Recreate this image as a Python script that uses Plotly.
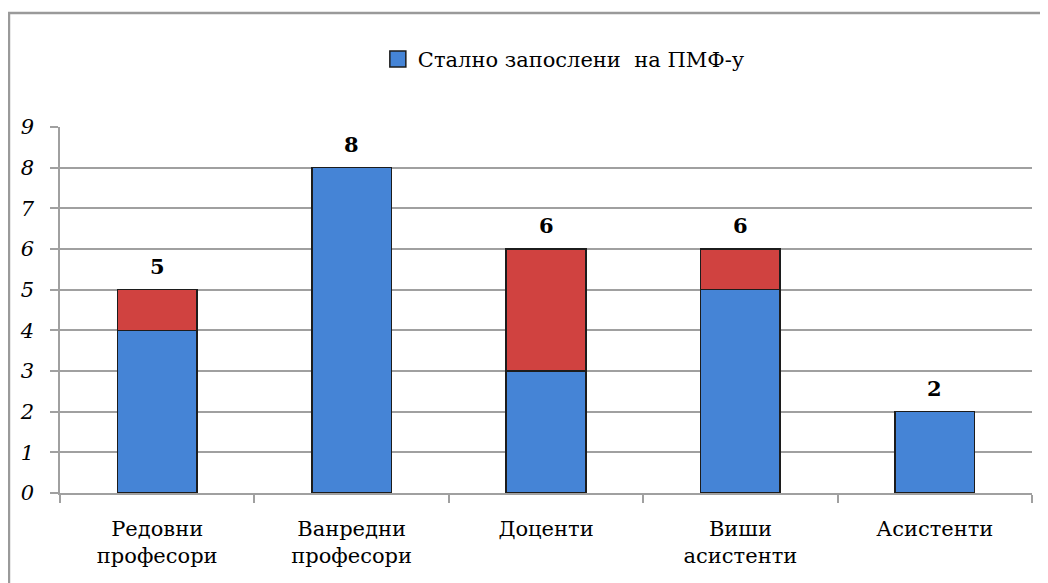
import plotly.graph_objects as go

categories = ["Редовни<br>професори", "Ванредни<br>професори", "Доценти", "Виши<br>асистенти", "Асистенти"]
blue_values = [4, 8, 3, 5, 2]
red_values = [1, 0, 3, 1, 0]
totals = [b + r for b, r in zip(blue_values, red_values)]
legend_name = "Стално запослени  на ПМФ-у"
y_ticks = list(range(0, 10))

FONT = "DejaVu Serif, Liberation Serif, serif"
BLUE = "#4584d6"
RED = "#d04240"
EDGE = "#1c1c1c"

fig = go.Figure()
fig.add_trace(go.Bar(
    x=categories, y=blue_values, name=legend_name,
    marker=dict(color=BLUE, line=dict(color=EDGE, width=1.6)),
    width=0.41, showlegend=False,
))
fig.add_trace(go.Bar(
    x=categories, y=red_values, name="red",
    marker=dict(color=RED, line=dict(color=EDGE, width=1.6)),
    width=0.41, showlegend=False,
))
# legend proxy with a larger square swatch
fig.add_trace(go.Scatter(
    x=[None], y=[None], mode="markers", name=legend_name,
    marker=dict(symbol="square", size=16, color=BLUE, line=dict(color=EDGE, width=1.5)),
    showlegend=True,
))

annotations = [
    dict(x=c, y=t, xref="x", yref="y", text="<b>%d</b>" % t, showarrow=False,
         yanchor="bottom", yshift=9, font=dict(family=FONT, size=21, color="#000000"))
    for c, t in zip(categories, totals)
]

fig.update_layout(
    barmode="stack",
    width=1040, height=575,
    margin=dict(l=52, r=16, t=119, b=90),
    paper_bgcolor="white", plot_bgcolor="white",
    font=dict(family=FONT, size=21, color="#000000"),
    legend=dict(orientation="h", x=0.327, y=1.185, xanchor="left", yanchor="middle",
                font=dict(family=FONT, size=21), itemwidth=30),
    annotations=annotations,
    shapes=[dict(type="rect", xref="paper", yref="paper",
                 x0=-0.0525, x1=1.03, y0=-0.4, y1=1.3115,
                 line=dict(color="#9a9a9a", width=2.5), fillcolor="rgba(0,0,0,0)", layer="below")],
)
fig.update_yaxes(
    range=[0, 9], tickvals=y_ticks, showgrid=True, gridcolor="#a0a0a0", gridwidth=1.5,
    showline=True, linecolor="#a0a0a0", linewidth=1.5,
    ticks="outside", ticklen=8, tickcolor="#a0a0a0", tickwidth=1.5,
    tickfont=dict(family=FONT, size=21, style="italic"), ticklabelstandoff=12,
    zeroline=False,
)
fig.update_xaxes(
    showline=True, linecolor="#a0a0a0", linewidth=1.5,
    ticks="outside", ticklen=8, tickcolor="#a0a0a0", tickwidth=1.5, tickson="boundaries",
    tickfont=dict(family=FONT, size=21), showgrid=False, ticklabelstandoff=16,
)
fig.write_html("out.html")
